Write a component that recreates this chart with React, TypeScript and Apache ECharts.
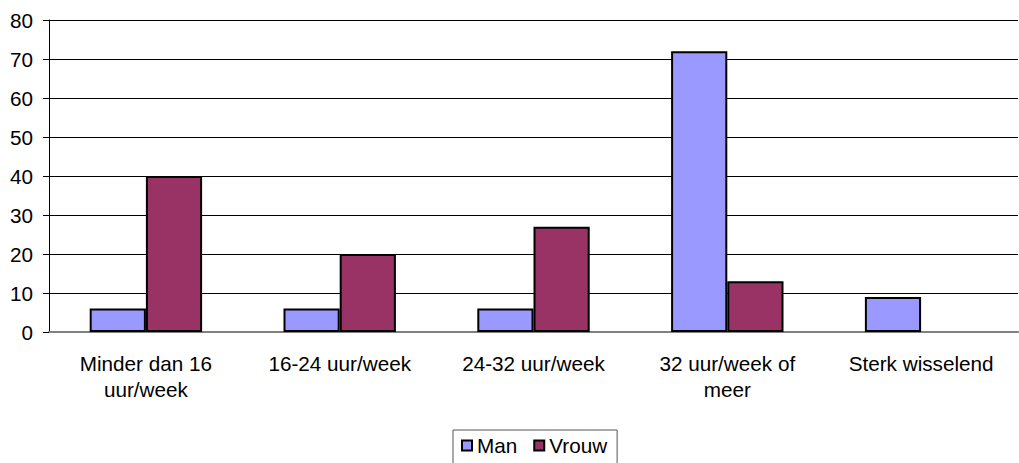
import React, { useEffect, useRef } from "react";
import * as echarts from "echarts";

const categories = [
  "Minder dan 16\nuur/week",
  "16-24 uur/week",
  "24-32 uur/week",
  "32 uur/week of\nmeer",
  "Sterk wisselend",
];
const manValues = [6, 6, 6, 72, 9];
const vrouwValues: (number | null)[] = [40, 20, 27, 13, null];
const seriesNames = ["Man", "Vrouw"];
const colors = ["#9999FF", "#993366"];
const yTicks = { min: 0, max: 80, interval: 10 };

export default function App() {
  const ref = useRef<HTMLDivElement>(null);
  useEffect(() => {
    document.body.style.margin = "0";
    const chart = echarts.init(ref.current!, null, { renderer: "svg" });
    const font = "Liberation Sans, Arial, sans-serif";
    const fs = 20.7;
    chart.setOption({
      animation: false,
      backgroundColor: "#ffffff",
      textStyle: { fontFamily: font },
      grid: { left: 49, right: 1, top: 20, bottom: 131, containLabel: false },
      legend: {
        left: 453,
        top: 430,
        data: seriesNames,
        icon: "rect",
        itemWidth: 10,
        itemHeight: 10,
        itemGap: 16,
        padding: [5, 10, 10, 8],
        borderColor: "#555",
        borderWidth: 1,
        textStyle: { fontSize: fs, color: "#000", fontFamily: font },
        itemStyle: { borderColor: "#000", borderWidth: 2 },
      },
      xAxis: {
        type: "category",
        data: categories,
        axisLine: { lineStyle: { color: "#808080", width: 2 } },
        axisTick: { show: false },
        axisLabel: {
          color: "#000",
          fontSize: fs,
          fontFamily: font,
          margin: 18,
          lineHeight: 26,
          interval: 0,
        },
      },
      yAxis: {
        type: "value",
        min: yTicks.min,
        max: yTicks.max,
        interval: yTicks.interval,
        axisLine: { show: true, lineStyle: { color: "#000", width: 1 } },
        axisTick: { show: true, length: 6, lineStyle: { color: "#000" } },
        axisLabel: { color: "#000", fontSize: fs, fontFamily: font, margin: 16 },
        splitLine: { lineStyle: { color: "#000", width: 1 } },
      },
      series: [
        {
          name: seriesNames[0],
          type: "bar",
          data: manValues,
          barGap: "0%",
          barCategoryGap: "42%",
          itemStyle: { color: colors[0], borderColor: "#000", borderWidth: 2 },
        },
        {
          name: seriesNames[1],
          type: "bar",
          data: vrouwValues,
          barGap: "0%",
          barCategoryGap: "42%",
          itemStyle: { color: colors[1], borderColor: "#000", borderWidth: 2 },
        },
      ],
    });
    return () => chart.dispose();
  }, []);
  return <div ref={ref} style={{ width: 1019, height: 463 }} />;
}
